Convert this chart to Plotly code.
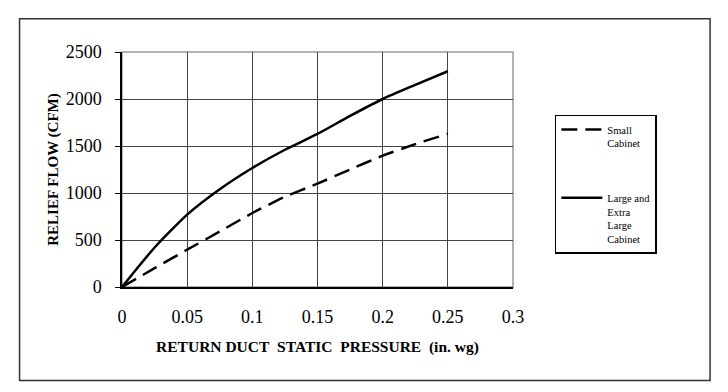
import plotly.graph_objects as go

pressure = [0, 0.025, 0.05, 0.075, 0.1, 0.125, 0.15, 0.175, 0.2, 0.225, 0.25]
small_cabinet = [0, 200, 397, 590, 787, 960, 1100, 1250, 1397, 1520, 1630]
large_cabinet = [0, 420, 770, 1040, 1266, 1460, 1628, 1820, 2000, 2150, 2295]

x_ticks = [0, 0.05, 0.1, 0.15, 0.2, 0.25, 0.3]
x_tick_labels = ["0", "0.05", "0.1", "0.15", "0.2", "0.25", "0.3"]
y_ticks = [0, 500, 1000, 1500, 2000, 2500]

serif = "Liberation Serif, Times New Roman, serif"

fig = go.Figure()
fig.add_trace(go.Scatter(
    x=pressure, y=small_cabinet, mode="lines", name="Small<br>Cabinet",
    legendgroup="a",
    line=dict(color="black", width=2.5, dash="16px,8px", shape="spline", smoothing=0.6),
))
fig.add_trace(go.Scatter(
    x=pressure, y=large_cabinet, mode="lines", name="Large and<br>Extra<br>Large<br>Cabinet",
    legendgroup="b",
    line=dict(color="black", width=2.5, shape="spline", smoothing=0.6),
))

fig.update_layout(
    width=712, height=376,
    margin=dict(l=114, r=207, t=44, b=97),
    paper_bgcolor="white", plot_bgcolor="white",
    font=dict(family=serif, color="black"),
    showlegend=True,
    legend=dict(
        x=1.107, y=0.733, xanchor="left", yanchor="top",
        bordercolor="black", borderwidth=1.5,
        font=dict(family=serif, size=10.5, color="black"),
        valign="top", tracegroupgap=38, itemwidth=41,
        entrywidth=100, entrywidthmode="pixels",
        bgcolor="white",
    ),
    xaxis=dict(
        range=[0, 0.3], tickvals=x_ticks, ticktext=x_tick_labels,
        showgrid=True, gridcolor="#444", gridwidth=1,
        showline=True, linecolor="black", linewidth=1.5,
        zeroline=False, ticks="", ticklabelstandoff=13,
        tickfont=dict(family=serif, size=18, color="black"),
        title=dict(text="<b>RETURN DUCT\u00a0 STATIC\u00a0 PRESSURE\u00a0 (in. wg)</b>",
                   font=dict(family=serif, size=15.5, color="black"), standoff=15),
    ),
    yaxis=dict(
        range=[0, 2500], tickvals=y_ticks,
        showgrid=True, gridcolor="#444", gridwidth=1,
        showline=True, linecolor="black", linewidth=1.5,
        zeroline=False, ticks="outside", ticklen=5, tickcolor="black",
        ticklabelstandoff=10,
        tickfont=dict(family=serif, size=18, color="black"),
        title=dict(text="<b>RELIEF FLOW (CFM)</b>",
                   font=dict(family=serif, size=15, color="black"), standoff=3),
    ),
    shapes=[
        dict(type="rect", xref="paper", yref="paper", x0=0, x1=1, y0=0, y1=1,
             line=dict(color="#999", width=1.5), layer="below"),
        dict(type="rect", xref="paper", yref="paper", x0=-0.262, x1=1.504, y0=-0.398, y1=1.142,
             line=dict(color="#333", width=1.5), layer="below"),
    ],
)

fig.write_html("out.html")
